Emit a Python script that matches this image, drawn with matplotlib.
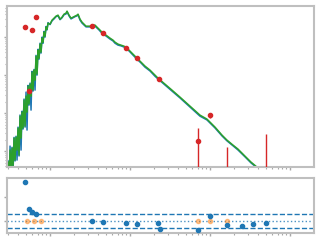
import numpy as np
import matplotlib
matplotlib.use("Agg")
import matplotlib.pyplot as plt

# model spectrum (wavelength in micron, log10 flux)
wave = [0.2985, 0.3073, 0.3162, 0.3255, 0.3350, 0.3447, 0.3548, 0.3652, 0.3758, 0.3868,
        0.3981, 0.4097, 0.4217, 0.4340, 0.4467, 0.4597, 0.4732, 0.4870, 0.5012, 0.5158,
        0.5309, 0.5464, 0.5623, 0.5788, 0.5957, 0.6131, 0.6310, 0.6494, 0.6683, 0.6879,
        0.7079, 0.7286, 0.7499, 0.7718, 0.7943, 0.8175, 0.8414, 0.8660, 0.8913, 0.9173,
        0.9441, 1.0, 1.059, 1.122, 1.189, 1.259, 1.334, 1.413, 1.496, 1.585,
        1.631, 1.728, 1.830, 1.939, 2.054, 2.175, 2.239, 2.371, 2.512, 2.661,
        2.818, 2.985, 3.162, 3.447, 3.652, 3.868, 4.097, 4.340, 4.597, 5.012,
        5.623, 6.131, 6.494, 7.079, 7.718, 8.414, 9.173, 10.0, 11.22, 12.23,
        13.73, 15.40, 17.78, 20.54, 22.39, 27.38, 33.50, 42.17, 56.23, 75.0,
        91.73, 115.5, 141.3, 163.1, 193.9, 223.9, 273.8, 325.5, 386.8, 446.7]

model_a = [-12.289, -12.763, -11.974, -12.553, -11.921, -12.395, -11.658, -12.237, -11.632, -11.974,
           -11.395, -12.105, -11.079, -11.658, -10.974, -11.395, -10.658, -11.342, -10.553, -10.974,
           -10.289, -10.763, -10.237, -10.553, -9.921, -10.395, -9.868, -10.132, -9.5, -9.974,
           -9.342, -9.553, -9.184, -9.395, -9.026, -9.132, -8.868, -8.974, -8.737, -8.789,
           -8.632, -8.658, -8.553, -8.5, -8.447, -8.421, -8.526, -8.474, -8.395, -8.368,
           -8.316, -8.421, -8.5, -8.474, -8.447, -8.421, -8.395, -8.526, -8.605, -8.658,
           -8.711, -8.711, -8.711, -8.684, -8.684, -8.737, -8.789, -8.842, -8.895, -8.947,
           -9.026, -9.079, -9.132, -9.184, -9.211, -9.237, -9.289, -9.368, -9.474, -9.553,
           -9.658, -9.763, -9.868, -10.0, -10.079, -10.237, -10.395, -10.579, -10.816, -11.053,
           -11.158, -11.368, -11.579, -11.711, -11.842, -11.947, -12.132, -12.289, -12.421, -12.553]

model_b = [-12.26, -13.026, -11.868, -12.58, -11.9, -12.553, -11.64, -12.26, -11.61, -12.237,
           -11.37, -12.13, -11.05, -11.974, -10.95, -11.42, -10.63, -11.37, -10.447, -11.447,
           -10.27, -10.79, -10.21, -10.921, -9.90, -10.42, -9.85, -10.395, -9.48, -10.0,
           -9.32, -9.58, -9.16, -9.42, -9.0, -9.16, -8.85, -9.0, -8.72, -8.81,
           -8.62, -8.67, -8.57, -8.52, -8.46, -8.44, -8.54, -8.49, -8.41, -8.39,
           -8.33, -8.44, -8.52, -8.49, -8.46, -8.44, -8.41, -8.55, -8.63, -8.68,
           -8.73, -8.73, -8.73, -8.71, -8.71, -8.76, -8.81, -8.87, -8.92, -8.97,
           -9.05, -9.10, -9.16, -9.21, -9.23, -9.26, -9.31, -9.39, -9.50, -9.58,
           -9.68, -9.79, -9.89, -10.03, -10.10, -10.26, -10.42, -10.60, -10.84, -11.08,
           -11.18, -11.39, -11.60, -11.73, -11.86, -11.97, -12.15, -12.31, -12.44, -12.57]

# photometry
phot_wave = [0.487, 0.546, 0.596, 0.668, 3.350, 4.597, 8.913, 12.23, 23.04, 70.79, 100.0, 163.1, 501.2]
phot_logf = [-8.737, -10.421, -8.816, -8.474, -8.711, -8.895, -9.289, -9.553, -10.105, -11.737, -11.053, -12.7, -12.7]
phot_err = [5e-11, 1.1e-12, 4.5e-11, 1.0e-10, 5e-11, 4e-11, 1.5e-11, 8e-12, 2e-12, 2.2e-12, 1.4e-12, 1.07e-12, 2.6e-12]

# residuals
res_wave = [0.487, 0.546, 0.596, 0.668, 3.350, 4.597, 8.913, 12.23, 22.39, 23.71,
            70.79, 100.0, 163.1, 251.2, 344.7, 501.2]
res_val = [1.65, 0.49, 0.40, 0.29, 0.0, -0.04, -0.08, -0.12, -0.08, -0.33,
           -0.37, 0.21, -0.17, -0.21, -0.12, -0.08]
lim_wave = [0.516, 0.631, 0.772, 70.79, 100.0, 163.1]
lim_val = [0.0, 0.0, 0.0, 0.0, 0.0, 0.0]
band = 0.3

grey = "#bfbfbf"

fig = plt.figure(figsize=(3.2, 2.4), dpi=100)
ax = fig.add_axes([0.022, 0.304, 0.959, 0.671])
ax2 = fig.add_axes([0.022, 0.029, 0.959, 0.229])

wave = np.array(wave)
ax.plot(wave, 10 ** np.array(model_b), color="#1f77b4", lw=1.1)
ax.plot(wave, 10 ** np.array(model_a), color="#2ca02c", lw=1.1)
ax.errorbar(phot_wave, 10 ** np.array(phot_logf), yerr=phot_err, fmt="o",
            color="#d62728", ms=3, elinewidth=1.0, capsize=0, zorder=5)
ax.set_xscale("log")
ax.set_yscale("log")
ax.set_xlim(0.29, 1995)
ax.set_ylim(10 ** -12.42, 10 ** -8.18)

ax2.axhline(band, color="#1f77b4", ls="--", lw=1)
ax2.axhline(-band, color="#1f77b4", ls="--", lw=1)
ax2.axhline(0, color="#1f77b4", ls=":", lw=1, alpha=0.8)
ax2.plot(lim_wave, lim_val, "o", color="#ff7f0e", ms=3, alpha=0.45, zorder=4)
ax2.plot(res_wave, res_val, "o", color="#1f77b4", ms=3, zorder=5)
ax2.set_xscale("log")
ax2.set_xlim(0.29, 1995)
ax2.set_ylim(-0.5, 1.8)
ax2.set_yticks([0, 1])

for a in (ax, ax2):
    for s in a.spines.values():
        s.set_color(grey)
        s.set_linewidth(1.5)
    a.tick_params(which="both", colors="#a8a8a8", labelbottom=False, labelleft=False)
    a.tick_params(which="major", length=2.5, width=1)
    a.tick_params(which="minor", length=1.5, width=0.8)

fig.savefig("out.png", dpi=100)
